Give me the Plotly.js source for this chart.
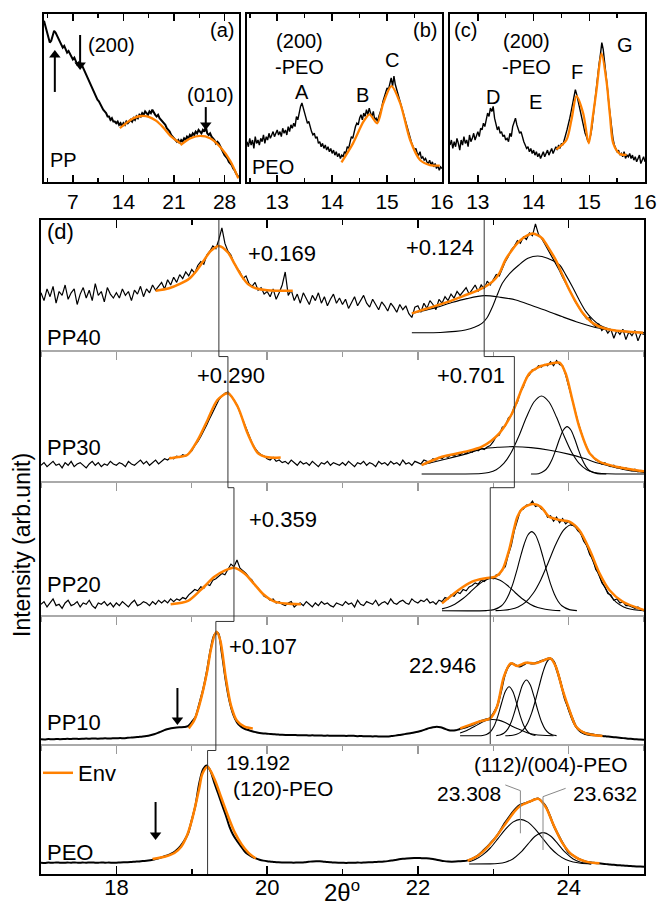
<!DOCTYPE html>
<html><head><meta charset="utf-8">
<script src="https://cdn.plot.ly/plotly-3.0.1.min.js"></script>
<style>html,body{margin:0;padding:0;background:#fff}#g{width:658px;height:907px}</style>
</head><body><div id="g"></div>
<script>
// ---------------- DATA ----------------
// panel (a) PP, 2theta 3..30, step 0.2
const aStart = 3.0, aStep = 0.2;
const aPP = [96,93,90,86,83,84,88,90,89,87, 85,83,82,80,81,79,77,78,76,74, 73,74,72,70,71,69,70,68,66,65,
 62,61,58,57,54,52,51,49,48,46, 45,43,42,41,39,39,37,38,36,36, 35,36,34,35,33,35,34,36,35,36,
 37,36,38,37,39,38,40,39,41,40, 42,41,40,42,41,43,41,40,39,40, 38,37,36,35,34,32,31,30,28,27,
 26,25,24,25,23,25,24,26,25,27, 26,28,27,29,28,30,29,31,30,29, 31,30,33,29,28,29,27,26,25,23,
 24,23,21,20,18,16,15,14,12,11, 10,8,7,5,3.5,2.5];
const aEnv1X = [13.5,14.5,15.5,16.5,17.5,18.5,19.5,20.5,21.9];
const aEnv1Y = [32,35.5,38.2,39.3,38.8,36.5,32.5,27.5,23];
const aEnv2X = [21.9,23.3,24.6,26,27.4,28.8,29.9];
const aEnv2Y = [22,26,27.4,26,20.8,12.5,2.2];
// panel (b) PEO, 12.45..16, step 0.025
const bStart = 12.45, bStep = 0.025;
const bPEO = [24,21,26,22,25,20,27,23,25,22, 26,24,28,23,27,25,29,26,28,30, 27,29,31,28,30,27,32,29,31,28,
 33,30,34,32,35,33,39,37,42,45, 47,43,41,38,35,36,32,30,28,29, 26,27,23,24,21,23,20,22,19,21,
 18,20,17,19,16,18,15,17,14,16, 15,18,17,21,20,24,27,26,30,33, 35,34,38,40,37,41,39,43,40,44,
 41,39,42,37,38,36,39,41,44,48, 51,53,56,55,59,62,57,63,58,55, 52,49,47,44,40,37,34,31,28,25,
 23,21,19,20,17,16,18,14,15,13, 14,12,11,13,10,12,9,11,8,10, 7,9,8];
const bEnvX = [14.17,14.38,14.57,14.68,14.82,14.93,15.08,15.24,15.42,15.6,15.78,15.96];
const bEnvY = [11.7,23,35.9,40.3,34.9,46.8,57.1,46.8,25,13.1,10.1,9.7];
// panel (c) PEO, 12.5..16, step 0.025
const cStart = 12.5, cStep = 0.025;
const cPEO = [22,25,20,24,21,26,23,19,25,22, 27,23,25,21,28,24,26,29,25,28, 30,27,32,31,35,33,38,41,39,44,
 42,45,38,34,31,33,29,30,27,28, 25,26,24,29,27,33,36,38,34,31, 29,30,26,24,22,20,21,18,20,17,
 19,16,18,15,17,14,16,18,15,17, 19,16,18,20,17,19,21,19,22,20, 23,22,26,28,31,34,38,42,47,50,
 55,52,48,44,40,36,33,29,27,24, 25,28,33,41,49,56,63,70,76,83, 79,72,64,56,47,39,31,26,22,20,
 18,19,16,17,15,18,14,16,15,17, 14,16,13,15,12,14,16,11,13,15, 12];
const cEnvX = [14.41,14.59,14.68,14.77,14.89,14.99,15.06,15.13,15.22,15.31,15.37,15.43,15.55,15.67];
const cEnvY = [19.4,25,37,51.2,40.9,23,38,54.8,76.6,59.7,40,23,16.7,16.1];

// panel (d) samples, 2theta 17..25
const dNames = ['PP40','PP30','PP20','PP10','PEO'];
const noisyStart = 17.0, noisyStep = 0.04;   // PP40, PP30, PP20
const smoothStart = 17.0, smoothStep = 0.05; // PP10, PEO
const pp40 = [44,38,47,41,49,36,45,42,50,39,44,47,35,43,48,40,46,38,51,42,45,37,48,43,40,
 44,40,47,42,45,38,46,43,49,41,47,44,50,46,49,52,47,54,50,56,52,58,55,60,57,
 62,59,65,68,66,73,76,80,78,85,94,82,76,73,67,63,60,55,57,51,49,52,46,48,43,
 45,41,47,39,44,50,60,42,46,38,43,36,44,40,35,42,38,44,36,41,34,39,43,36,40,
 35,39,32,37,41,34,38,42,36,33,39,35,31,37,34,30,36,33,29,35,31,34,28,25,33,
 34,29,36,32,38,35,31,39,36,41,38,43,40,45,42,45,48,43,47,50,45,50,47,53,50,
 54,58,57,63,68,72,77,80,84,82,87,85,90,88,97,89,86,82,78,74,70,66,61,56,52,
 47,43,38,34,30,27,24,25,20,18,20,15,17,13,16,9,15,12,16,8,14,11,15,7,13, 12];
const pp30 = [12,14,11,13,15,12,13,10,14,12,15,11,13,14,12,10,13,15,12,14,11,13,12,15,13,
 12,14,13,11,15,13,12,14,16,13,15,12,14,16,13,15,17,16,18,17,19,18,20,19,21,
 23,27,30,34,38,43,48,53,58,62,65,67,68,65,62,58,52,46,40,34,29,25,22,20,19,
 17,16,18,15,16,14,15,13,16,14,12,15,13,14,12,15,13,11,14,13,15,12,14,13,12,
 14,12,15,13,11,14,13,15,12,14,13,11,15,13,14,12,15,13,14,12,16,13,14,12,15,
 14,13,16,15,14,17,16,18,17,19,18,20,19,21,20,22,21,23,22,24,23,25,24,26,27,
 30,34,35,41,42,48,50,57,60,68,72,79,81,85,85,88,87,89,88,91,88,92,89,88,81,
 73,64,55,46,38,31,26,21,19,16,15,13,14,12,11,12,10,11,9,10,9,8,9,7,8, 7];
const pp20 = [8,10,6,9,12,7,8,5,9,11,7,8,10,6,9,8,11,7,5,9,8,10,7,9,6,
 9,7,10,8,6,9,11,7,8,10,9,7,10,8,11,9,11,9,12,10,12,11,13,12,15,
 17,19,18,21,20,23,22,26,27,29,31,30,34,38,36,41,35,33,31,28,26,22,20,17,14,
 13,11,12,9,10,8,7,9,10,6,8,9,7,10,8,6,9,7,10,8,9,7,6,9,8,
 7,10,8,9,6,11,8,7,10,9,8,11,7,9,10,8,12,9,8,10,11,9,8,12,10,
 9,11,10,12,9,10,8,11,10,13,12,15,14,17,16,19,18,21,22,24,23,26,25,27,28,
 27,30,30,34,36,45,52,63,71,78,79,82,82,85,81,82,79,78,73,74,70,73,69,72,68,
 70,67,67,63,61,55,52,45,42,34,31,24,21,16,15,11,12,9,10,7,7,6,5,6,4, 3];
const pp10 = [3.6,3.5,3.8,3.6,3.9,3.7,3.8,4.0,3.9,4.1,3.9,4.0,4.2,4.1,4.3,4.1,4.2,4.4,4.3,4.4,
 4.4,4.6,4.5,4.8,5.0,5.2,5.5,5.8,6.2,6.8,7.6,8.6,9.8,11.0,11.8,12.4,12.8,13.0,13.2,13.8,
 17,21,31,42,56,73,84.5,86,70,49.6,33.5,23,16.8,13.5,11.8,10.8,9.9,9.2,8.6,8.2,
 8.0,7.7,7.5,7.3,7.1,7.0,6.9,7.0,6.8,6.7,6.8,6.6,6.7,6.5,6.6,6.4,6.5,6.3,6.4,6.3,
 6.4,6.2,6.4,6.3,6.1,6.2,6.0,6.1,5.9,6.0,5.8,5.9,5.9,6.2,6.5,6.9,7.4,7.9,8.4,8.9,
 9.5,10.3,11.3,12.3,13.0,13.4,13.0,12.0,10.9,10.4,10.6,11.5,12.3,13.2,14.3,15.5,17.0,18.1,19.0,19.8,
 23.5,28.9,40,53,60,62.5,61,60,61.5,63,62.5,62.5,63.5,64.5,65.6,66.4,64,56,46,35,
 27.5,20,13.4,10.5,9,8.1,7.5,7,6.6,6.2,5.9,5.6,5.3,5.0,4.7,4.4,4.1,3.9,3.6,3.4, 3.2];
const peo = [8.7,8.5,8.8,8.6,8.9,8.7,8.6,8.8,8.7,8.9,8.6,8.8,8.7,8.9,8.8,8.6,8.9,8.7,8.8,8.7,
 8.7,8.9,9.0,9.1,9.3,9.5,9.7,10.0,10.2,10.6,11.2,11.9,12.8,13.8,14.9,16.2,18.5,21.5,25.5,31,
 41.5,53,70,80.5,83.5,79,70,62,53.5,45.5,36.5,30,25.5,21.5,17.5,15,13.2,12,11,10.3,
 9.8,9.5,9.2,9.0,8.9,8.8,8.8,8.7,8.8,8.9,9.1,9.4,9.7,9.9,9.8,9.5,9.2,9.0,8.8,8.7,
 8.6,8.5,8.7,8.6,8.8,8.7,8.9,9.0,9.1,9.3,9.4,9.6,9.9,10.3,10.8,11.3,11.7,12.0,12.2,12.3,
 12.3,12.2,12.1,12.0,11.6,11.0,10.4,9.9,9.6,9.5,9.6,9.8,10.0,10.3,11.2,12.6,14.4,17,19.8,22.8,
 26,29.5,34,39,43,47,50.5,53,54,55,56,57.5,58,55.5,51.8,45,37.5,31.5,26,21,
 16.5,14.6,12.6,11.2,10,9.3,8.8,8.5,8.2,7.9,7.6,7.3,7.1,6.8,6.6,6.4,6.2,6.0,5.8,5.7, 5.6];

// envelope fits (orange)
const pp40EnvLX = [18.52,18.7,18.85,18.97,19.05,19.15,19.25,19.36,19.48,19.57,19.66,19.75,19.85,20.0,20.34];
const pp40EnvLY = [45.6,47.5,51,55,60,68,76,80,75,66,57,50.5,47.5,46,45.6];
const pp40EnvRX = [21.92,22.1,22.41,22.6,22.81,22.99,23.08,23.16,23.25,23.34,23.43,23.52,23.6,23.65,23.74,23.83,23.92,24.01,24.1,24.19,24.3,24.41,24.55,24.68,24.99];
const pp40EnvRY = [28.2,31.5,37.2,41.5,46.2,52.6,59,69.2,77,83.3,87.5,89.7,88,85.9,78,69.2,57.5,46.2,36.5,28.2,21.5,17.9,15.6,14.6,13.3];
const pp30EnvLX = [18.7,18.82,18.94,19.08,19.21,19.34,19.48,19.61,19.74,19.88,20.01,20.18];
const pp30EnvLY = [17.3,18.3,19.8,31.3,46.6,61.8,67,56.7,36.4,21.1,18.1,18];
const pp30EnvRX = [22.05,22.32,22.63,22.85,23.08,23.25,23.39,23.48,23.61,23.74,23.88,23.96,24.05,24.14,24.28,24.41,24.63,24.94,25.0];
const pp30EnvRY = [12.2,18.5,22.4,26.2,36.4,51.7,72,82.2,87.2,89.3,90.3,82.2,61.8,41.5,21.1,14.7,10.9,7.9,7.5];
const pp20EnvLX = [18.72,18.95,19.12,19.3,19.43,19.56,19.7,19.83,19.95,20.1,20.25,20.45];
const pp20EnvLY = [8,10.5,18.7,28.6,33,35.3,31,23,15.5,10,8.5,8];
const pp20EnvRX = [22.32,22.54,22.72,22.9,23.03,23.12,23.21,23.32,23.39,23.52,23.63,23.74,23.88,24.01,24.14,24.28,24.41,24.54,24.72,25.0];
const pp20EnvRY = [8.7,18.7,24.9,27.4,28.6,33.6,48.5,73.4,79.6,82.8,80.8,73.4,70.9,69.6,63.4,48.5,31.1,18.7,9.9,3.7];
const pp10EnvLX = [18.96,19.03,19.1,19.2,19.25,19.3,19.33,19.38,19.45,19.52,19.6,19.7,19.81];
const pp10EnvLY = [12.1,18,30,55,72,84,87,80,52,30,18,13.5,12.1];
const pp10EnvRX = [22.56,22.7,22.81,22.96,23.05,23.14,23.23,23.32,23.43,23.56,23.7,23.76,23.83,23.92,24.01,24.1,24.23,24.45];
const pp10EnvRY = [12.1,15,17.3,19.9,28.9,52,62.5,60.5,63,62.5,65.6,66.4,60,41.9,26.4,13.4,8.3,6.2];
const peoEnvLX = [18.48,18.65,18.77,18.86,18.94,19.0,19.05,19.1,19.14,19.21,19.3,19.39,19.48,19.57,19.66,19.75,19.85];
const peoEnvLY = [11.5,13.5,16.2,21,30,41,53,66,76.9,82.5,73.3,59,44.8,32,23,16.5,12];
const peoEnvRX = [22.66,22.81,22.99,23.16,23.28,23.36,23.48,23.56,23.6,23.7,23.79,23.92,24.05,24.23,24.41];
const peoEnvRY = [10.2,14.6,25,38.5,48,52.5,55.6,57.5,57.8,51,39,23.6,14.6,9.5,8.2];

// fitted components (black)
const pp40C1X = [21.92,22.2,22.45,22.65,22.88,23.1,23.3,23.52,23.74,23.92,24.1,24.41,24.7,25.0];
const pp40C1Y = [28.2,32,36.5,39.5,41.8,40.5,38.5,34,29.5,25.5,21.8,16.7,14.5,13.5];
const pp40C2X = [21.92,22.3,22.5,22.63,22.75,22.85,22.92,22.99,23.05,23.12,23.22,23.34,23.46,23.59,23.72,23.88,23.96,24.05,24.14,24.23,24.32,24.41,24.52,24.63,24.8,25.0];
const pp40C2Y = [13.3,13.5,14.3,15.4,17.5,20.5,25,33.3,42,51.3,59,65.4,70.5,72.3,70.5,65.4,58,48.7,38.5,29.5,23.5,19.2,16.5,14.9,13.8,13.3];
const pp30C1X = [22.05,22.32,22.63,22.85,23.08,23.28,23.5,23.75,24.0,24.2,24.4,24.6,24.8,25.0];
const pp30C1Y = [12.2,16,20.5,24.5,25.8,26.2,25.5,23.5,20.5,17.3,13.5,10.5,8,6.5];
const pp30C2X = [22.05,22.84,22.94,23.04,23.14,23.24,23.34,23.44,23.54,23.64,23.74,23.84,23.94,24.04,24.14,24.24,24.34,24.44,25.0];
const pp30C2Y = [5.3,5.7,6.5,8.6,13.4,21.9,34.3,48.6,60.3,64.9,60.3,48.6,34.3,21.9,13.4,8.6,6.5,5.7,5.3];
const pp30C3X = [23.5,23.6,23.68,23.73,23.78,23.83,23.88,23.93,23.98,24.03,24.08,24.13,24.18,24.23,24.28,24.38,24.5];
const pp30C3Y = [5.3,5.6,7.8,11,16.4,23.9,32.2,38.9,41.5,38.9,32.2,23.9,16.4,11,7.8,5.6,5.3];
const pp20C1X = [22.32,22.39,22.49,22.59,22.69,22.79,22.89,22.99,23.09,23.19,23.29,23.39,23.49,23.59,23.69,23.79,23.89];
const pp20C1Y = [4.6,5.6,8.1,11.9,16.8,22,25.9,27.4,25.9,22,16.8,11.9,8.1,5.6,4.3,3.6,3.3];
const pp20C2X = [22.32,22.91,23.01,23.11,23.16,23.21,23.26,23.31,23.36,23.41,23.46,23.51,23.56,23.61,23.66,23.71,23.76,23.81,23.86,23.91,24.01,24.11];
const pp20C2Y = [3.2,3.3,4,6.9,10.3,15.7,23.2,32.7,43.2,52.8,59.7,62.2,59.7,52.8,43.2,32.7,23.2,15.7,10.3,6.9,4,3.3];
const pp20C3X = [23.03,23.13,23.23,23.33,23.43,23.53,23.63,23.73,23.83,23.93,24.03,24.13,24.23,24.33,24.43,24.53,24.63,24.73,24.83,24.93,25.0];
const pp20C3Y = [3.3,3.6,4.3,6,9.6,16.2,26.2,39.2,52.8,63.2,67.2,63.2,52.8,39.2,26.2,16.2,9.6,6,4.3,3.6,3.3];
const pp10C1X = [22.56,22.65,22.75,22.85,22.93,22.99,23.07,23.15,23.25,23.35,23.45,23.55,23.65,23.8];
const pp10C1Y = [8.5,10.5,13.5,16.8,18.6,19,18.5,16.8,13.8,11.2,8.8,7.4,6.8,6.4];
const pp10C2X = [22.56,22.86,22.91,22.96,23.01,23.06,23.11,23.16,23.21,23.26,23.31,23.36,23.41,23.46,23.51,23.56];
const pp10C2Y = [6.4,6.6,7.3,9.3,13.7,21.4,31.6,40.7,44.4,40.7,31.6,21.4,13.7,9.3,7.3,6.6];
const pp10C3X = [23.04,23.09,23.14,23.19,23.24,23.29,23.34,23.39,23.44,23.49,23.54,23.59,23.64,23.69,23.74,23.79,23.84];
const pp10C3Y = [6.5,7,8.3,11.3,17.2,26.2,36.9,46,49.6,46,36.9,26.2,17.2,11.3,8.3,7,6.5];
const pp10C4X = [23.16,23.26,23.31,23.36,23.41,23.46,23.51,23.56,23.61,23.66,23.71,23.76,23.81,23.86,23.91,23.96,24.01,24.06,24.11,24.16,24.21,24.26,24.37];
const pp10C4Y = [6.4,6.8,7.5,9,11.9,16.7,24.1,33.9,45.1,55.8,63.5,66.4,63.5,55.8,45.1,33.9,24.1,16.7,11.9,9,7.5,6.8,6.4];
const peoC1X = [22.68,22.76,22.86,22.96,23.06,23.16,23.26,23.36,23.46,23.56,23.66,23.76,23.86,23.96,24.06,24.16,24.3];
const peoC1Y = [9.4,11.1,14.7,20,27,34.3,39.9,42,39.9,34.3,27,20,14.7,11.1,9.2,8.3,7.8];
const peoC2X = [22.68,22.96,23.06,23.16,23.26,23.36,23.46,23.56,23.66,23.76,23.86,23.96,24.06,24.16,24.26,24.3];
const peoC2Y = [7.7,7.8,8.1,9.1,11.6,16.4,23,29.2,31.8,29.2,23,16.4,11.6,9.1,8.1,7.8];

// peak guide lines (2theta), top to bottom: PP40, PP30, PP20, PP10, PEO
const leftGuide  = [19.36, 19.48, 19.56, 19.32, 19.21];
const rightGuide = [22.88, 23.28, 22.96, 22.96, null];
const peoPeaks = [23.36, 23.66];
const shiftLabels = ['+0.169','+0.290','+0.359','+0.107','19.192'];
// marker arrows: [xaxis, yaxis, x, tail y, head y]
const arrowList = [['x','y',8.0,87.5,69.6],['x','y',4.5,53.6,75.6],['x','y',25.4,44.6,33.9],
                   ['x7','y7',18.81,43.4,18.6],['x8','y8',18.52,55.4,30]];

// ---------------- HELPERS ----------------
const W = 658, H = 907;
const fx = p => p / W, fy = p => 1 - p / H;
const FONT = 'Liberation Sans, Arial, sans-serif';
const ORANGE = '#FF8000';
function grid(start, step, n){ const a=[]; for(let i=0;i<n;i++) a.push(+(start+i*step).toFixed(4)); return a; }
function ln(xa, ya, x, y, color, width, shape, extra){
  return Object.assign({type:'scatter', mode:'lines', x:x, y:y, xaxis:xa, yaxis:ya, showlegend:false, hoverinfo:'skip',
    line:{color:color, width:width, shape:shape||'linear', smoothing:0.8}}, extra||{});
}
const traces = [];
traces.push(ln('x','y', grid(aStart,aStep,aPP.length), aPP, '#000', 2.0));
traces.push(ln('x','y', aEnv1X, aEnv1Y, ORANGE, 2.3, 'spline'));
traces.push(ln('x','y', aEnv2X, aEnv2Y, ORANGE, 2.3, 'spline'));
traces.push(ln('x2','y2', grid(bStart,bStep,bPEO.length), bPEO, '#000', 1.4));
traces.push(ln('x2','y2', bEnvX, bEnvY, ORANGE, 2.3, 'spline'));
traces.push(ln('x3','y3', grid(cStart,cStep,cPEO.length), cPEO, '#000', 1.4));
traces.push(ln('x3','y3', cEnvX, cEnvY, ORANGE, 2.3, 'spline'));

const dx = ['x4','x5','x6','x7','x8'], dy = ['y4','y5','y6','y7','y8'];
const dData = [pp40, pp30, pp20, pp10, peo];
dData.forEach((d,i)=>{
  const noisy = i < 3;
  const xs = noisy ? grid(noisyStart,noisyStep,d.length) : grid(smoothStart,smoothStep,d.length);
  traces.push(ln(dx[i], dy[i], xs, d, '#000', noisy?1.2:2.0, noisy?'linear':'spline'));
});
const comps = [
  [[pp40C1X,pp40C1Y],[pp40C2X,pp40C2Y]],
  [[pp30C1X,pp30C1Y],[pp30C2X,pp30C2Y],[pp30C3X,pp30C3Y]],
  [[pp20C1X,pp20C1Y],[pp20C2X,pp20C2Y],[pp20C3X,pp20C3Y]],
  [[pp10C1X,pp10C1Y],[pp10C2X,pp10C2Y],[pp10C3X,pp10C3Y],[pp10C4X,pp10C4Y]],
  [[peoC1X,peoC1Y],[peoC2X,peoC2Y]]
];
comps.forEach((list,i)=> list.forEach(c=> traces.push(ln(dx[i], dy[i], c[0], c[1], '#000', 1.1, 'spline'))));
const envs = [
  [[pp40EnvLX,pp40EnvLY],[pp40EnvRX,pp40EnvRY]],
  [[pp30EnvLX,pp30EnvLY],[pp30EnvRX,pp30EnvRY]],
  [[pp20EnvLX,pp20EnvLY],[pp20EnvRX,pp20EnvRY]],
  [[pp10EnvLX,pp10EnvLY],[pp10EnvRX,pp10EnvRY]],
  [[peoEnvLX,peoEnvLY],[peoEnvRX,peoEnvRY]]
];
envs.forEach((list,i)=> list.forEach((e,k)=>{
  const leg = (i===4 && k===0);
  traces.push(ln(dx[i], dy[i], e[0], e[1], ORANGE, 2.5, 'spline', leg?{showlegend:true, name:'Env'}:{}));
}));
const JOG = 95, GC = '#333';
function guide(arr){
  arr.forEach((p,i)=>{
    if (p === null) return;
    const xa = (i===0) ? 'x9' : dx[i];
    const up = (i>0) ? arr[i-1] : null;
    let xs, ys;
    if (up === null || i===0) { xs=[p,p]; ys=[0,100]; }
    else { xs=[p,p,up,up]; ys=[0,JOG,JOG,100]; }
    traces.push(ln(xa, dy[i], xs, ys, GC, 1));
  });
}
guide(leftGuide); guide(rightGuide);
const leadLabelX = [23.16, 23.96], leadLabelY = [68.5, 65.9], leadKneeY = [64.1, 59.5], leadEndY = [31.3, 18.5];
peoPeaks.forEach((p,k)=>{
  traces.push(ln('x8','y8', [leadLabelX[k], p, p], [leadLabelY[k], leadKneeY[k], leadEndY[k]], '#888', 1));
});
arrowList.forEach(a=>{
  const down = a[4] < a[3];
  traces.push(ln(a[0], a[1], [a[2],a[2]], [a[3],a[4]], '#000', 2));
  traces.push({type:'scatter', mode:'markers', x:[a[2]], y:[a[4]], xaxis:a[0], yaxis:a[1], showlegend:false, hoverinfo:'skip',
    marker:{symbol: down?'triangle-down':'triangle-up', size:10, color:'#000', line:{width:0}}});
});

// ---------------- AXES ----------------
const layout = {
  width: W, height: H, autosize:false, margin:{l:0,r:0,t:0,b:0},
  paper_bgcolor:'#fff', plot_bgcolor:'rgba(0,0,0,0)',
  font:{family:FONT, color:'#000', size:20},
  showlegend:true,
  legend:{x:fx(38), y:fy(752), xanchor:'left', yanchor:'top', bgcolor:'rgba(0,0,0,0)', borderwidth:0,
          font:{family:FONT, size:22, color:'#000'}, itemwidth:30, tracegroupgap:0},
  annotations:[]
};
function topX(dom, range, dtick, minor){
  return {domain:dom, range:range, dtick:dtick, tick0:0, ticks:'inside', ticklen:7, tickwidth:1.5, tickcolor:'#000',
    minor:{dtick:minor, tick0:0, ticks:'inside', ticklen:4, tickwidth:1.5, tickcolor:'#000'},
    showline:true, linecolor:'#000', linewidth:2, mirror:'ticks', showgrid:false, zeroline:false,
    tickfont:{family:FONT, size:21, color:'#000'}, fixedrange:true};
}
function boxY(dom){
  return {domain:dom, range:[0,100], showline:true, linecolor:'#000', linewidth:2, mirror:true, ticks:'',
    showticklabels:false, showgrid:false, zeroline:false, fixedrange:true};
}
const yTop = [fy(182), fy(14)];
layout.xaxis  = Object.assign(topX([fx(44),fx(239)], [3,30], 7, 3.5), {anchor:'y'});
layout.yaxis  = Object.assign(boxY(yTop), {anchor:'x'});
layout.xaxis2 = Object.assign(topX([fx(247),fx(442)], [12.45,16], 1, 0.5), {anchor:'y2'});
layout.yaxis2 = Object.assign(boxY(yTop), {anchor:'x2'});
layout.xaxis3 = Object.assign(topX([fx(450),fx(645)], [12.5,16], 1, 0.5), {anchor:'y3'});
layout.yaxis3 = Object.assign(boxY(yTop), {anchor:'x3'});

const dBounds = [220, 350, 481, 615, 744, 874];
const dDom = [fx(41), fx(644)];
for (let i=0;i<5;i++){
  const n = i+4;
  const yd = [fy(dBounds[i+1]), fy(dBounds[i])];
  layout['yaxis'+n] = Object.assign(boxY(yd), {anchor:'x'+n});
  if (i<4){
    layout['xaxis'+n] = {domain:dDom, range:[17,25], anchor:'y'+n, side:'bottom', dtick:2, tick0:0,
      ticks:'outside', ticklen:8, tickwidth:1.3, tickcolor:'#999',
      minor:{dtick:1, tick0:0, ticks:'outside', ticklen:5, tickwidth:1.3, tickcolor:'#999'},
      showline:true, linecolor:'#aaa', linewidth:1.5, showticklabels:false, showgrid:false, zeroline:false, fixedrange:true};
  } else {
    layout['xaxis'+n] = {domain:dDom, range:[17,25], anchor:'y'+n, side:'bottom', dtick:2, tick0:0,
      ticks:'inside', ticklen:8, tickwidth:1.5, tickcolor:'#000',
      minor:{dtick:1, tick0:0, ticks:'inside', ticklen:5, tickwidth:1.5, tickcolor:'#000'},
      showline:true, linecolor:'#000', linewidth:2, showgrid:false, zeroline:false, fixedrange:true,
      ticklabelstandoff:-7,
      tickfont:{family:FONT, size:22, color:'#000'}};
  }
}
layout.xaxis9 = {overlaying:'x4', range:[17,25], anchor:'y4', side:'top', dtick:2, tick0:0,
  ticks:'inside', ticklen:8, tickwidth:1.5, tickcolor:'#000',
  minor:{dtick:1, tick0:0, ticks:'inside', ticklen:5, tickwidth:1.5, tickcolor:'#000'},
  showline:true, linecolor:'#000', linewidth:2, showticklabels:false, showgrid:false, zeroline:false, fixedrange:true};

// ---------------- TEXT ----------------
function txt(xr, yr, x, y, t, size, anchor){
  layout.annotations.push({xref:xr, yref:yr, x:x, y:y, text:t, showarrow:false,
    xanchor:anchor||'center', yanchor:'middle', font:{family:FONT, size:size||20, color:'#000'}});
}
txt('x','y', 27.65, 90.5, '(a)', 20);
txt('x','y', 12.4, 81.5, '(200)', 20);
txt('x','y', 26.0, 51.8, '(010)', 20);
txt('x','y', 3.55, 13.1, 'PP', 20, 'left');
txt('x2','y2', 15.69, 90.5, '(b)', 20);
txt('x2','y2', 13.41, 76.2, '(200)<br>-PEO', 20);
txt('x2','y2', 13.45, 53.6, 'A', 20);
txt('x2','y2', 14.56, 51.8, 'B', 20);
txt('x2','y2', 15.09, 72.6, 'C', 20);
txt('x2','y2', 12.5, 8.9, 'PEO', 20, 'left');
txt('x3','y3', 12.77, 90.5, '(c)', 20);
txt('x3','y3', 13.88, 76.2, '(200)<br>-PEO', 20);
txt('x3','y3', 13.27, 50.6, 'D', 20);
txt('x3','y3', 14.03, 47.6, 'E', 20);
txt('x3','y3', 14.78, 65.5, 'F', 20);
txt('x3','y3', 15.64, 81.5, 'G', 20);
const FS = 22;
txt('x4','y4', 17.05, 90.8, '(d)', FS, 'left');
dNames.forEach((n,i)=>{
  const yv = [10, 25.2, 22.4, 16.3, 16.2][i];
  txt(dx[i], dy[i], 17.05, yv, n, FS, 'left');
});
txt('x4','y4', 20.2, 74.6, shiftLabels[0], FS);
txt('x4','y4', 22.3, 78.5, '+0.124', FS);
txt('x5','y5', 19.52, 80.9, shiftLabels[1], FS);
txt('x5','y5', 22.71, 80.9, '+0.701', FS);
txt('x6','y6', 20.21, 70.9, shiftLabels[2], FS);
txt('x7','y7', 19.95, 75.2, shiftLabels[3], FS);
txt('x7','y7', 22.32, 61.2, '22.946', FS);
txt('x8','y8', 19.43, 85.5, shiftLabels[4], 21, 'left');
txt('x8','y8', 19.52, 65.5, '(120)-PEO', 21, 'left');
txt('x8','y8', 23.77, 84.5, '(112)/(004)-PEO', 21);
txt('x8','y8', 22.68, 62.3, '23.308', 21);
txt('x8','y8', 24.48, 62.3, '23.632', 21);
layout.annotations.push({xref:'paper', yref:'paper', x:fx(22), y:fy(545), text:'Intensity (arb.unit)', textangle:-90,
  showarrow:false, xanchor:'center', yanchor:'middle', font:{family:FONT, size:23, color:'#000'}});
layout.annotations.push({xref:'paper', yref:'paper', x:fx(342), y:fy(891), text:'2θ<sup>o</sup>',
  showarrow:false, xanchor:'center', yanchor:'middle', font:{family:FONT, size:24, color:'#000'}});

Plotly.newPlot('g', traces, layout, {staticPlot:true, displayModeBar:false});
</script></body></html>
